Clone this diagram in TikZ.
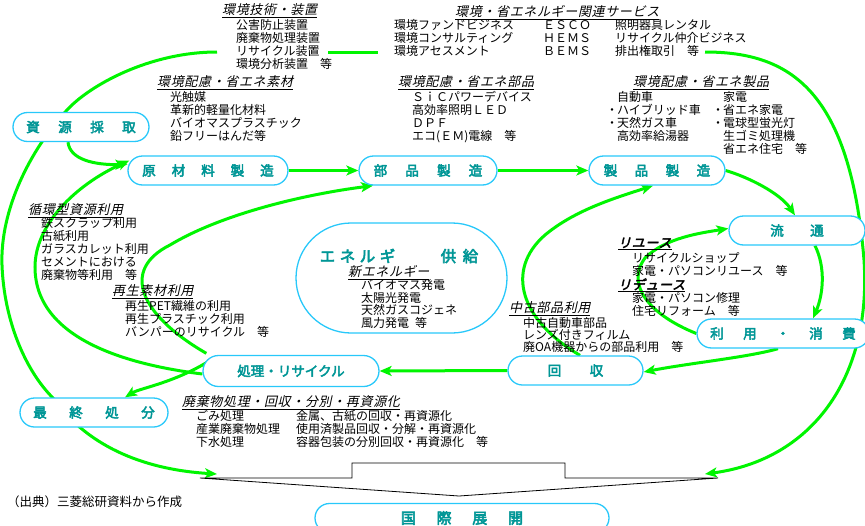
\documentclass[tikz,border=0pt]{standalone}
\usepackage{fontspec}
\setmainfont{Noto Sans CJK JP}
\newfontfamily\jpit[FakeSlant=0.22,LetterSpace=5]{Noto Sans CJK JP}
\newfontfamily\jpbf[FakeBold=3.5]{Noto Sans CJK JP}
\newfontfamily\jpbfit[FakeBold=3,FakeSlant=0.22,LetterSpace=5]{Noto Sans CJK JP}
\usetikzlibrary{arrows.meta}
\pgfdeclarelayer{bg}
\pgfsetlayers{bg,main}
\definecolor{flowgreen}{RGB}{0,245,0}
\definecolor{boxblue}{RGB}{40,200,250}
\definecolor{boxteal}{RGB}{0,150,150}
\newcommand{\sgap}[1]{\hspace*{#1pt}}
\newcommand{\mdot}{\makebox[10pt]{・}}
\newcommand{\itemlines}[5]{\foreach \txt [count=\k] in {#5}{\node[itemtext] (#1-\k) at (#2,{#3+(\k-1)*#4}) {\txt};}}
\begin{document}
\begin{tikzpicture}[x=1pt,y=-1pt,
  boxnode/.style={draw=boxblue, line width=1.3pt, fill=white, rounded corners=14.5pt,
    minimum height=29pt, inner sep=0pt, text=boxteal, font={\jpbf\fontsize{13.5}{13.5}\selectfont}},
  itemtext/.style={anchor=base west, inner sep=0pt, font={\fontsize{12}{13}\selectfont}},
  lbltext/.style={anchor=base west, inner sep=0pt, font={\jpit\fontsize{13}{13}\selectfont}},
  lblbold/.style={anchor=base west, inner sep=0pt, font={\jpbfit\fontsize{13}{13}\selectfont}},
  flow/.style={draw=flowgreen, line width=3pt, -{Stealth[length=12pt,width=10pt,inset=3pt]}},
  flowplain/.style={draw=flowgreen, line width=3pt},
  bracketline/.style={draw=black, line width=0.8pt, line join=miter}
]
\useasboundingbox (0,0) rectangle (865,525);

% ---------- boxes ----------
\node[boxnode, minimum width=136pt] (sg) at (81,127) {資\sgap{18.5}源\sgap{18.5}採\sgap{18.5}取};
\node[boxnode, minimum width=160pt] (gen) at (208,170.5) {原\sgap{16}材\sgap{16}料\sgap{16}製\sgap{16}造};
\node[boxnode, minimum width=138pt] (bu) at (428,170.5) {部\sgap{18.2}品\sgap{18.2}製\sgap{18.2}造};
\node[boxnode, minimum width=136pt] (sei) at (657,170.5) {製\sgap{17.5}品\sgap{17.5}製\sgap{17.5}造};
\node[boxnode, minimum width=136pt] (ryu) at (797,230.5) {流\sgap{26.5}通};
\node[boxnode, minimum width=172pt] (riyo) at (783,333.5) {利\sgap{19.5}用\sgap{19.5}・\sgap{19.5}消\sgap{19.5}費};
\node[boxnode, minimum width=135pt] (kai) at (575.5,370.5) {回\sgap{28.5}収};
\node[boxnode, minimum width=176pt, minimum height=31pt, rounded corners=15.5pt] (shori) at (291,371) {処理・リサイクル};
\node[boxnode, minimum width=148pt] (saishu) at (94,412.5) {最\sgap{22.5}終\sgap{22.5}処\sgap{22.5}分};
\node[boxnode, minimum width=294pt, minimum height=29pt, rounded corners=14.5pt,
  font={\jpbf\fontsize{15}{15}\selectfont}] (koku) at (462,518) {国\sgap{20.7}際\sgap{20.7}展\sgap{20.7}開};
\node[boxnode, minimum width=211pt, minimum height=110pt, rounded corners=55pt] (ene) at (401.5,278) {};
\node[inner sep=0pt, text=boxteal, font={\jpbf\fontsize{15.5}{15.5}\selectfont}] (enetitle) at (399,256)
  {エ\sgap{4.5}ネ\sgap{4.5}ル\sgap{4.5}ギ\sgap{45.5}供\sgap{6.5}給};

% ---------- free coordinates ----------
\coordinate (lt) at (217,52);
\coordinate (rt) at (705,52);
\coordinate (m1) at (328,52);
\coordinate (m2) at (378,52);
\coordinate (tipL) at (217,474);
\coordinate (tipR) at (705,474);
\coordinate (brA) at (200,478);
\coordinate (brB) at (352,478);
\coordinate (brC) at (352,463);
\coordinate (brD) at (565,463);
\coordinate (brE) at (565,478);
\coordinate (brF) at (718,478);
\coordinate (brG) at (459,496);

% ---------- connectors ----------
\begin{pgfonlayer}{bg}
\draw[flow] ([xshift=-13pt]sg.south) .. controls (70,160) and (95,165) .. ([yshift=6pt]gen.west);
\draw[flow] (gen.east) -- (bu.west);
\draw[flow] (bu.east) -- (sei.west);
\draw[flow] (sei.east) .. controls (748,177) and (780,193) .. ([xshift=-2pt]ryu.north);
\draw[flow] ([xshift=18pt]ryu.south) .. controls (826,268) and (823,295) .. ([xshift=30pt]riyo.north);
\draw[flow] ([xshift=-5pt]riyo.south) .. controls (750,357) and (690,363) .. ([yshift=-1.5pt]kai.east);
\draw[flow] (kai.west) -- (shori.east);
\draw[flow] ([xshift=10pt,yshift=12pt]shori.west) .. controls (175,383) and (140,388) .. ([xshift=31pt]saishu.north);
\draw[flow] ([yshift=-3pt]shori.west) .. controls (130,365) and (35,340) .. (35,267)
   .. controls (35,225) and (75,185) .. ([xshift=2pt,yshift=10pt]gen.west);
\draw[flow] ([xshift=4pt,yshift=1.5pt]shori.north west) .. controls (140,315) and (120,270) .. (170,245)
   .. controls (220,215) and (300,195) .. ([xshift=-55pt]bu.south);
\draw[flow] ([xshift=4.5pt]kai.north) .. controls (520,320) and (505,270) .. (545,235)
   .. controls (575,210) and (615,198) .. ([xshift=-4pt]sei.south);
\draw[flow] (riyo.west) .. controls (650,315) and (625,285) .. (645,258)
   .. controls (665,238) and (700,233) .. ([yshift=2pt]ryu.west);
% big outer loop
\draw[flow] (lt) .. controls (150,52) and (90,85) .. (67,110)
   .. controls (30,150) and (0,210) .. (2,265)
   .. controls (4,320) and (25,370) .. (53,398)
   .. controls (90,450) and (150,470) .. (tipL);
\draw[flow] (rt) .. controls (790,52) and (850,90) .. (864,260)
   .. controls (872,380) and (810,460) .. (tipR);
\draw[flowplain] (m1) -- (m2);
\end{pgfonlayer}

% ---------- bracket ----------
\draw[bracketline] (brA) -- (brB) -- (brC) -- (brD) -- (brE) -- (brF) -- (brG) -- cycle;

% ---------- texts ----------
\node[lbltext] (la) at (222,14.5) {\underline{環境技術・装置}};
\itemlines{a}{236}{29.5}{13}{公害防止装置,廃棄物処理装置,リサイクル装置,環境分析装置　等}

\node[lbltext] (lb) at (455,16.5) {\underline{環境・省エネルギー関連サービス}};
\itemlines{b}{394}{29.5}{13}{環境ファンドビジネス,環境コンサルティング,環境アセスメント}
\itemlines{bb}{543}{29.5}{13}{ＥＳＣＯ,ＨＥＭＳ,ＢＥＭＳ}
\itemlines{bc}{615}{29.5}{13}{照明器具レンタル,リサイクル仲介ビジネス,排出権取引　等}

\node[lbltext] (lc) at (157,86.5) {\underline{環境配慮・省エネ素材}};
\itemlines{c}{170}{101}{13}{光触媒,革新的軽量化材料,バイオマスプラスチック,鉛フリーはんだ等}

\node[lbltext] (ld) at (398,86.5) {\underline{環境配慮・省エネ部品}};
\itemlines{d}{412}{101}{13}{ＳｉＣパワーデバイス,高効率照明ＬＥＤ,ＤＰＦ,エコ(ＥＭ)電線　等}

\node[lbltext] (le) at (633,86.5) {\underline{環境配慮・省エネ製品}};
\node[itemtext] (e1) at (617,101) {自動車};
\node[itemtext] (e2) at (607,114) {\mdot ハイブリッド車};
\node[itemtext] (e3) at (607,127) {\mdot 天然ガス車};
\node[itemtext] (e4) at (617,140) {高効率給湯器};
\node[itemtext] (e5) at (723,101) {家電};
\node[itemtext] (e6) at (713,114) {\mdot 省エネ家電};
\node[itemtext] (e7) at (713,127) {\mdot 電球型蛍光灯};
\node[itemtext] (e8) at (723,140) {生ゴミ処理機};
\node[itemtext] (e9) at (723,153) {省エネ住宅　等};

\node[lbltext] (lf) at (28,214.5) {\underline{循環型資源利用}};
\itemlines{f}{41}{227.5}{13}{鉄スクラップ利用,古紙利用,ガラスカレット利用,セメントにおける,廃棄物等利用　等}

\node[lbltext] (lg) at (112,295.5) {\underline{再生素材利用}};
\itemlines{g}{125}{310.5}{13}{再生PET繊維の利用,再生プラスチック利用,バンパーのリサイクル　等}

\node[lbltext] (lh) at (348,276.5) {\underline{新エネルギー}};
\itemlines{h}{361}{289.5}{12.7}{バイオマス発電,太陽光発電,天然ガスコジェネ,風力発電\hspace{6pt}等}

\node[lbltext] (li) at (509,312.5) {\underline{中古部品利用}};
\itemlines{i}{523}{327.5}{12}{中古自動車部品,レンズ付きフィルム,廃OA機器からの部品利用　等}

\node[lblbold] (lj) at (618,247.5) {\underline{リユース}};
\itemlines{j}{632}{262.5}{13}{リサイクルショップ,家電・パソコンリユース　等}
\node[lblbold] (lk) at (618,289.5) {\underline{リデュース}};
\itemlines{k}{632}{302.5}{13}{家電・パソコン修理,住宅リフォーム　等}

\node[lbltext] (ll) at (182,406.5) {\underline{廃棄物処理・回収・分別・再資源化}};
\itemlines{l}{196}{420.5}{13}{ごみ処理,産業廃棄物処理,下水処理}
\itemlines{lm}{296}{420.5}{13}{金属、古紙の回収・再資源化,使用済製品回収・分解・再資源化,容器包装の分別回収・再資源化　等}

\node[itemtext, font={\fontsize{12.5}{13}\selectfont}] (src) at (7,506.5) {（出典）三菱総研資料から作成};
\end{tikzpicture}
\end{document}
